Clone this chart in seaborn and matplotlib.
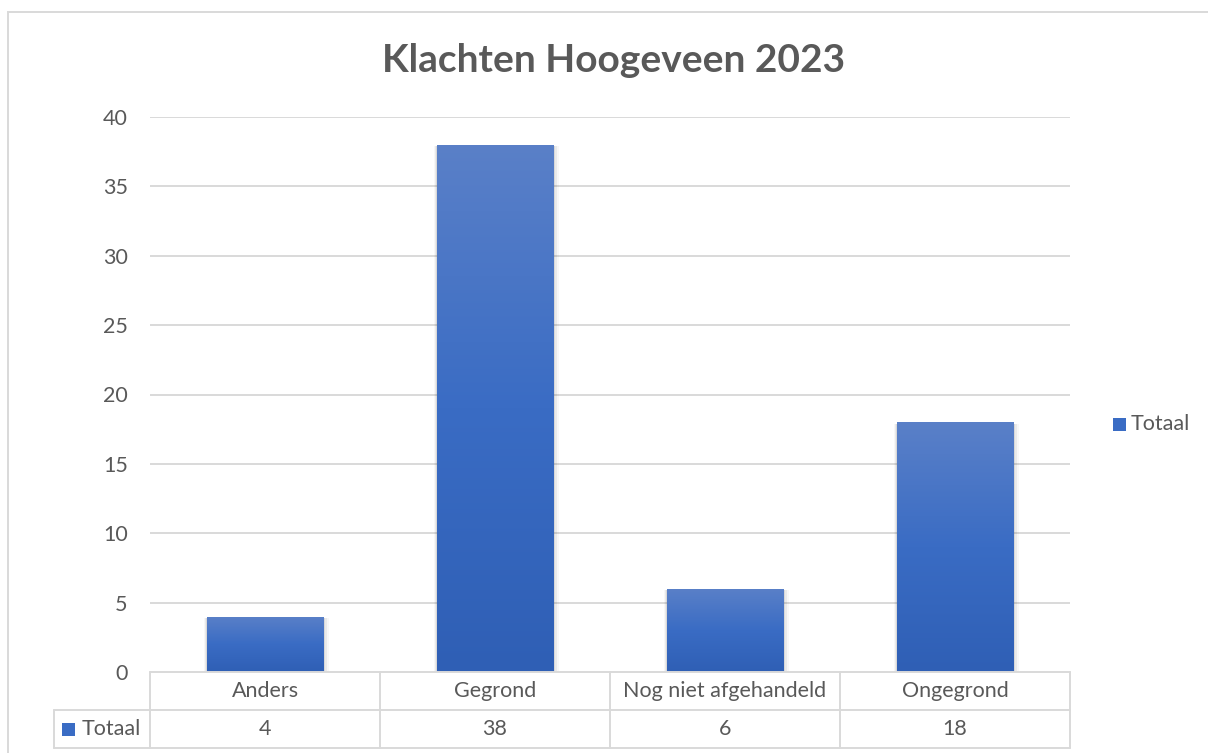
import numpy as np
import pandas as pd
import matplotlib
matplotlib.use("Agg")
import matplotlib.pyplot as plt
import seaborn as sns
from matplotlib.patches import Rectangle
from matplotlib.colors import LinearSegmentedColormap

categories = ["Anders", "Gegrond", "Nog niet afgehandeld", "Ongegrond"]
values = [4, 38, 6, 18]
series_name = "Totaal"
title = "Klachten Hoogeveen 2023"
yticks = [0, 5, 10, 15, 20, 25, 30, 35, 40]

sns.set_theme(style="white")
FONT = ["Lato", "DejaVu Sans"]
plt.rcParams["font.family"] = FONT
TXT = "#595959"
GRID = "#d9d9d9"
BLUE = "#3a6cc4"
FS = 15.5

W, H = 1208, 753
fig = plt.figure(figsize=(W / 100, H / 100), dpi=100)
ax = fig.add_axes([150 / W, 1 - 672 / H, 920 / W, 555 / H])

df = pd.DataFrame({"cat": categories, "val": values})
sns.barplot(data=df, x="cat", y="val", ax=ax, width=0.505, color=BLUE,
            edgecolor="none", linewidth=0, zorder=3)

ax.set_ylim(0, 40)
ax.set_xlim(-0.5, len(categories) - 0.5)
ax.set_yticks(yticks)
ax.set_yticklabels([str(t) for t in yticks])
ax.tick_params(axis="y", length=0, pad=16, labelsize=FS, labelcolor=TXT)
ax.set_xticks([])
ax.set_xlabel("")
ax.set_ylabel("")
for s in ax.spines.values():
    s.set_visible(False)
for t in yticks[1:]:
    ax.axhline(t, color=GRID, lw=1.4, zorder=1)

# gradient fill for bars
cmap = LinearSegmentedColormap.from_list("g", ["#2f5fb5", "#3a6cc4", "#5a80c8"])
grad = np.linspace(0, 1, 256).reshape(-1, 1)
for p in list(ax.patches):
    x0, y0 = p.get_x(), p.get_y()
    w, h = p.get_width(), p.get_height()
    for k, a in enumerate([0.07, 0.05, 0.03]):
        off = 0.008 * (k + 1)
        sh = Rectangle((x0 - off * 0.5, y0), w + off * 1.5, h - 0.1, facecolor="black",
                       alpha=a, edgecolor="none", zorder=2)
        ax.add_patch(sh)
    im = ax.imshow(grad, extent=(x0, x0 + w, y0, y0 + h), origin="lower",
                   cmap=cmap, aspect="auto", zorder=4)
    im.set_clip_path(p)
ax.set_xlim(-0.5, len(categories) - 0.5)
ax.set_ylim(0, 40)

# data table drawn in axes coordinates
n = len(categories)
rlw = 96 / 920
rowh = 38 / 555
tb = dict(transform=ax.transAxes, clip_on=False, color=GRID, lw=1.4, zorder=5)
# horizontal lines
ax.plot([0, 1], [0, 0], **tb)
ax.plot([-rlw, 1], [-rowh, -rowh], **tb)
ax.plot([-rlw, 1], [-2 * rowh, -2 * rowh], **tb)
# vertical lines
for j in range(n + 1):
    ax.plot([j / n, j / n], [0, -2 * rowh], **tb)
ax.plot([-rlw, -rlw], [-rowh, -2 * rowh], **tb)
for j, c in enumerate(categories):
    ax.text((j + 0.5) / n, -0.5 * rowh, c, transform=ax.transAxes, ha="center",
            va="center", fontsize=FS, color=TXT)
    ax.text((j + 0.5) / n, -1.5 * rowh, str(values[j]), transform=ax.transAxes,
            ha="center", va="center", fontsize=FS, color=TXT)
ax.text(-rlw + 28 / 920, -1.5 * rowh, series_name, transform=ax.transAxes, ha="left",
        va="center", fontsize=FS, color=TXT)
ax.add_patch(Rectangle((-rlw + 8 / 920, -1.5 * rowh - 6.5 / 555), 13 / 920, 13 / 555,
                       transform=ax.transAxes, facecolor=BLUE, edgecolor="none",
                       clip_on=False, zorder=5))

# legend on the right
fig.patches.append(Rectangle((1113 / W, 1 - 431 / H), 13 / W, 13 / H, transform=fig.transFigure,
                             facecolor=BLUE, edgecolor="none"))
fig.text(1131 / W, 1 - 424 / H, series_name, color=TXT, fontsize=FS, va="center", ha="left")

fig.text(614 / W, 1 - 60 / H, title, color=TXT, fontsize=28, fontweight="bold",
         ha="center", va="center")

# outer chart border
fig.patches.append(Rectangle((8 / W, -0.1), 1.2, 1 - 12 / H + 0.1, transform=fig.transFigure,
                             facecolor="none", edgecolor=GRID, lw=1.4))

fig.savefig("out.png", dpi=100)
